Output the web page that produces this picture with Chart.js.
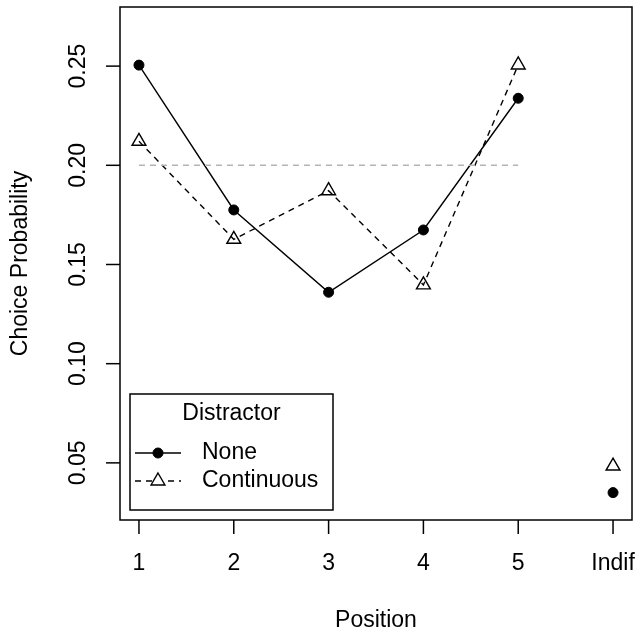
<!DOCTYPE html>
<html>
<head>
<meta charset="utf-8">
<script src="https://cdn.jsdelivr.net/npm/chart.js@4.4.1/dist/chart.umd.min.js"></script>
<style>
  html, body { margin: 0; padding: 0; background: #fff; }
  #wrap { width: 636px; height: 632px; }
</style>
</head>
<body>
<div id="wrap"><canvas id="chart"></canvas></div>
<script>
// datos
const positions = [1, 2, 3, 4, 5, 6];
const positionLabels = ["1", "2", "3", "4", "5", "Indif"];
const noneProb = [0.2505, 0.1775, 0.136, 0.1674, 0.2338, 0.035];
const continuousProb = [0.2121, 0.1627, 0.1872, 0.1397, 0.2506, 0.0484];
const yTicks = [0.05, 0.10, 0.15, 0.20, 0.25];
const yTickLabels = ["0.05", "0.10", "0.15", "0.20", "0.25"];
const chanceLevel = 0.2;
const chanceFrom = 1, chanceTo = 5;
const seriesNames = ["None", "Continuous"];
const legendTitle = "Distractor";
const xTitle = "Position";
const yTitle = "Choice Probability";

const FONT = '23px "Liberation Sans", Arial, Helvetica, sans-serif';

// puntos 1..5 van unidos, "Indif" va suelto
const toPts = (vals, from, to) => positions.slice(from, to).map((x, i) => ({ x, y: vals[from + i] }));

const noneStyle = { borderColor: "#000", backgroundColor: "#000", pointStyle: "circle", pointRadius: 5, pointBorderWidth: 1, borderWidth: 1.4, borderDash: [] };
const contStyle = { borderColor: "#000", backgroundColor: "rgba(0,0,0,0)", pointStyle: "triangle", pointRadius: 8, pointBorderWidth: 1.4, borderWidth: 1.4, borderDash: [6, 5] };

const datasets = [
    {
        label: "chance",
        data: [{ x: chanceFrom, y: chanceLevel }, { x: chanceTo, y: chanceLevel }],
        showLine: true, borderColor: "#b4b4b4", borderWidth: 1.4, borderDash: [6, 5], pointRadius: 0
    },
    Object.assign({ label: seriesNames[0], data: toPts(noneProb, 0, 5), showLine: true }, noneStyle),
    Object.assign({ label: seriesNames[1], data: toPts(continuousProb, 0, 5), showLine: true }, contStyle),
    Object.assign({ label: seriesNames[0] + " indif", data: toPts(noneProb, 5, 6), showLine: false }, noneStyle),
    Object.assign({ label: seriesNames[1] + " indif", data: toPts(continuousProb, 5, 6), showLine: false }, contStyle)
];

// ejes, marco y leyenda al estilo de R
const rAxesPlugin = {
    id: "rAxes",
    afterDraw(chart) {
        const ctx = chart.ctx;
        const { left, right, top, bottom } = chart.chartArea;
        const xs = chart.scales.x, ys = chart.scales.y;
        const tick = 14;

        ctx.save();
        ctx.strokeStyle = "#000";
        ctx.fillStyle = "#000";
        ctx.lineWidth = 1.5;
        ctx.setLineDash([]);
        ctx.strokeRect(left, top, right - left, bottom - top);

        ctx.font = FONT;
        ctx.textAlign = "center";
        ctx.textBaseline = "middle";

        // eje x
        positions.forEach((p, i) => {
            const px = xs.getPixelForValue(p);
            ctx.beginPath();
            ctx.moveTo(px, bottom);
            ctx.lineTo(px, bottom + tick);
            ctx.stroke();
            ctx.fillText(positionLabels[i], px, 564);
        });
        ctx.fillText(xTitle, (left + right) / 2, 621);

        // eje y (etiquetas giradas)
        yTicks.forEach((v, i) => {
            const py = ys.getPixelForValue(v);
            ctx.beginPath();
            ctx.moveTo(left, py);
            ctx.lineTo(left - tick, py);
            ctx.stroke();
            ctx.save();
            ctx.translate(79, py);
            ctx.rotate(-Math.PI / 2);
            ctx.fillText(yTickLabels[i], 0, 0);
            ctx.restore();
        });
        ctx.save();
        ctx.translate(21, (top + bottom) / 2);
        ctx.rotate(-Math.PI / 2);
        ctx.fillText(yTitle, 0, 0);
        ctx.restore();

        // leyenda
        const box = { x: 130, y: 394, w: 203, h: 116 };
        ctx.fillStyle = "#fff";
        ctx.fillRect(box.x, box.y, box.w, box.h);
        ctx.fillStyle = "#000";
        ctx.strokeRect(box.x, box.y, box.w, box.h);
        ctx.fillText(legendTitle, box.x + box.w / 2, 414);

        const rows = [
            { ds: chart.data.datasets[1], y: 453 },
            { ds: chart.data.datasets[2], y: 481 }
        ];
        rows.forEach(({ ds, y }) => {
            ctx.save();
            ctx.lineWidth = ds.borderWidth;
            ctx.setLineDash(ds.borderDash);
            ctx.beginPath();
            ctx.moveTo(135, y);
            ctx.lineTo(181, y);
            ctx.stroke();
            ctx.restore();
            ctx.save();
            ctx.lineWidth = ds.pointBorderWidth;
            ctx.strokeStyle = ds.borderColor;
            ctx.fillStyle = ds.pointStyle === "triangle" ? "#fff" : ds.backgroundColor;
            Chart.helpers.drawPoint(ctx, { pointStyle: ds.pointStyle, radius: ds.pointRadius, borderWidth: ds.pointBorderWidth, rotation: 0 }, 158, y);
            ctx.restore();
            ctx.textAlign = "left";
            ctx.fillText(ds.label, 202, y);
        });
        ctx.restore();
    }
};

new Chart(document.getElementById("chart"), {
    type: "scatter",
    data: { datasets },
    options: {
        responsive: true,
        maintainAspectRatio: false,
        animation: false,
        layout: { autoPadding: false, padding: { left: 120, top: 7, right: 4, bottom: 112 } },
        plugins: {
            legend: { display: false },
            tooltip: { enabled: false }
        },
        scales: {
            x: { type: "linear", min: 0.8, max: 6.2, display: false },
            y: { type: "linear", min: 0.0212, max: 0.2798, display: false }
        }
    },
    plugins: [rAxesPlugin]
});
</script>
</body>
</html>
